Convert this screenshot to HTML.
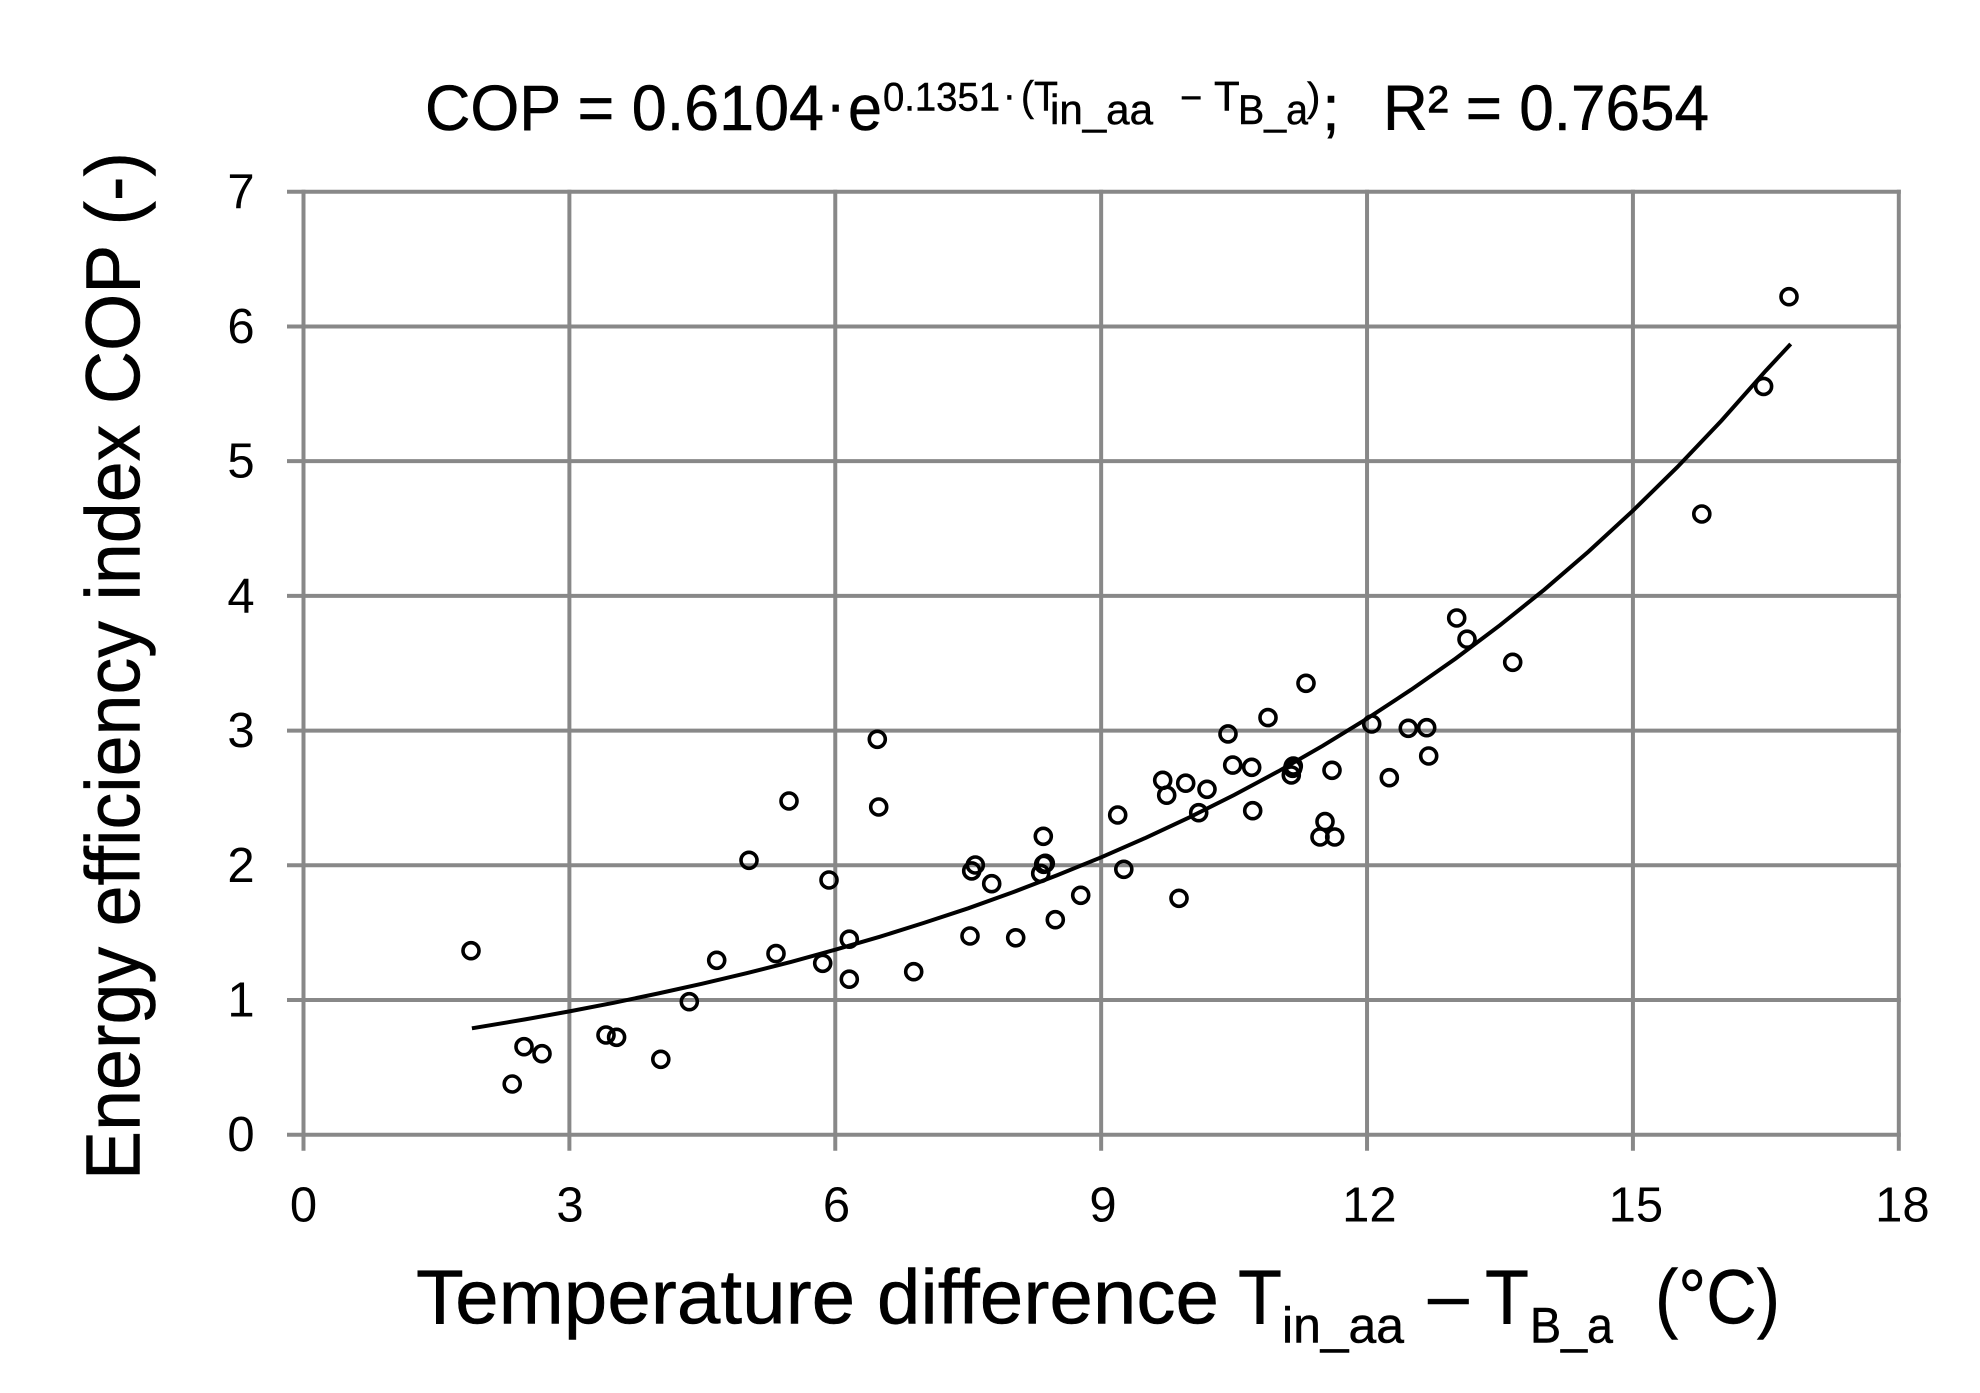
<!DOCTYPE html>
<html lang="en">
<head>
<meta charset="utf-8">
<title>COP vs temperature difference</title>
<style>
html,body{margin:0;padding:0;background:#fff;width:1980px;height:1393px;overflow:hidden}
svg{display:block}
text{font-family:"Liberation Sans",sans-serif;fill:#000}
.heavy{stroke:#000;stroke-width:.5px}
</style>
</head>
<body>
<svg id="chart" xmlns="http://www.w3.org/2000/svg" width="1980" height="1393" viewBox="0 0 1980 1393">
  <rect x="0" y="0" width="1980" height="1393" fill="#fff"/>
  <g id="grid"></g>
  <g id="tick-labels" font-size="49"></g>
  <path id="trend" fill="none" stroke="#000" stroke-width="4"/>
  <g id="points"></g>

  <g class="heavy">
    <text x="425" y="130" font-size="64" textLength="399" lengthAdjust="spacingAndGlyphs">COP = 0.6104</text>
    <text x="825.5" y="125" font-size="61">·</text>
    <text x="848" y="130" font-size="64" textLength="34" lengthAdjust="spacingAndGlyphs">e</text>
    <text x="883" y="110.7" font-size="40" textLength="117" lengthAdjust="spacingAndGlyphs">0.1351</text>
    <text x="1003" y="108" font-size="38">·</text>
    <text x="1021" y="110.7" font-size="42" textLength="37" lengthAdjust="spacingAndGlyphs">(T</text>
    <text x="1050" y="124" font-size="42" textLength="103" lengthAdjust="spacingAndGlyphs">in_aa</text>
    <text x="1180" y="110.7" font-size="38">−</text>
    <text x="1214" y="110.7" font-size="42">T</text>
    <text x="1238" y="124" font-size="42" textLength="70" lengthAdjust="spacingAndGlyphs">B_a</text>
    <text x="1307" y="110.7" font-size="40">)</text>
    <text x="1322" y="130" font-size="64">;</text>
    <text x="1383" y="130" font-size="64" textLength="326" lengthAdjust="spacingAndGlyphs">R² = 0.7654</text>
  </g>

  <g class="heavy">
    <text x="416" y="1323.3" font-size="77" textLength="803" lengthAdjust="spacingAndGlyphs">Temperature difference</text>
    <text x="1238" y="1323.3" font-size="77" textLength="44" lengthAdjust="spacingAndGlyphs">T</text>
    <text x="1282" y="1342.7" font-size="50" textLength="122" lengthAdjust="spacingAndGlyphs">in_aa</text>
    <text x="1428" y="1320" font-size="73">–</text>
    <text x="1485" y="1323.3" font-size="77" textLength="44" lengthAdjust="spacingAndGlyphs">T</text>
    <text x="1530" y="1342.7" font-size="50" textLength="83" lengthAdjust="spacingAndGlyphs">B_a</text>
    <text x="1655" y="1323.3" font-size="77" textLength="125" lengthAdjust="spacingAndGlyphs">(°C)</text>
  </g>

  <text class="heavy" transform="translate(139.7 1180) rotate(-90)" x="0" y="0" font-size="77" textLength="1028" lengthAdjust="spacingAndGlyphs">Energy efficiency index COP (-)</text>
</svg>
<script>
const xTicks = [0, 3, 6, 9, 12, 15, 18];
const yTicks = [0, 1, 2, 3, 4, 5, 6, 7];

const pointX = [1.890, 2.355, 2.488, 2.691, 3.413, 3.533, 4.031, 4.353, 4.662, 5.027, 5.331, 5.478, 5.858, 5.929, 6.158, 6.158, 6.474, 6.490, 6.885, 7.520, 7.539, 7.580, 7.765, 8.036, 8.318, 8.347, 8.352, 8.370, 8.483, 8.769, 9.187, 9.255, 9.695, 9.740, 9.878, 9.954, 10.101, 10.194, 10.431, 10.484, 10.699, 10.710, 10.883, 11.146, 11.161, 11.168, 11.311, 11.469, 11.526, 11.605, 11.635, 12.053, 12.251, 12.466, 12.673, 12.696, 13.012, 13.128, 13.644, 15.777, 16.475, 16.761];
const pointY = [1.366, 0.376, 0.653, 0.601, 0.740, 0.723, 0.560, 0.987, 1.295, 2.037, 1.344, 2.477, 1.272, 1.891, 1.154, 1.451, 2.935, 2.433, 1.210, 1.475, 1.958, 2.002, 1.863, 1.462, 1.940, 2.215, 2.007, 2.015, 1.596, 1.777, 2.373, 1.970, 2.631, 2.520, 1.755, 2.609, 2.390, 2.564, 2.975, 2.744, 2.727, 2.405, 3.096, 2.670, 2.720, 2.737, 3.351, 2.210, 2.324, 2.705, 2.210, 3.049, 2.650, 3.017, 3.021, 2.811, 3.836, 3.678, 3.507, 4.608, 5.555, 6.221];

const trendX = [1.9, 2.5, 3, 3.5, 4, 4.5, 5, 5.5, 6, 6.5, 7, 7.5, 8, 8.5, 9, 9.5, 10, 10.5, 11, 11.5, 12, 12.5, 13, 13.5, 14, 14.5, 15, 15.5, 16, 16.5, 16.78];
const trendY = [0.790, 0.856, 0.915, 0.979, 1.048, 1.121, 1.199, 1.283, 1.373, 1.469, 1.572, 1.681, 1.799, 1.925, 2.059, 2.203, 2.357, 2.522, 2.698, 2.887, 3.088, 3.304, 3.535, 3.782, 4.046, 4.329, 4.632, 4.955, 5.301, 5.672, 5.870];

const X = function (v) { return 303.5 + v * 88.628; };
const Y = function (v) { return 1134.7 - v * 134.71; };
const NS = 'http://www.w3.org/2000/svg';

const grid = document.getElementById('grid');
const labels = document.getElementById('tick-labels');
const pts = document.getElementById('points');

function makeLine(x1, y1, x2, y2) {
  const l = document.createElementNS(NS, 'line');
  l.setAttribute('x1', x1);
  l.setAttribute('y1', y1);
  l.setAttribute('x2', x2);
  l.setAttribute('y2', y2);
  l.setAttribute('stroke', '#888888');
  l.setAttribute('stroke-width', '4');
  return l;
}

const xMax = xTicks[xTicks.length - 1];
const yMax = yTicks[yTicks.length - 1];

yTicks.forEach(function (t) {
  const l = makeLine(287, Y(t), X(xMax) + 2, Y(t));
  
  
  grid.appendChild(l);
  const s = document.createElementNS(NS, 'text');
  s.setAttribute('x', 241);
  s.setAttribute('y', Y(t) + 16.5);
  s.setAttribute('text-anchor', 'middle');
  
  
  s.textContent = t;
  labels.appendChild(s);
});

xTicks.forEach(function (t) {
  const l = makeLine(X(t), Y(yMax) - 2, X(t), 1150.7);
  
  
  grid.appendChild(l);
  const s = document.createElementNS(NS, 'text');
  s.setAttribute('x', X(t) + t * 0.2);
  s.setAttribute('y', 1221.7);
  s.setAttribute('text-anchor', 'middle');
  
  
  s.textContent = t;
  labels.appendChild(s);
});

document.getElementById('trend').setAttribute('d', trendX.map(function (v, i) {
  return (i ? 'L' : 'M') + X(v).toFixed(1) + ' ' + Y(trendY[i]).toFixed(1);
}).join(' '));

pointX.forEach(function (v, i) {
  const c = document.createElementNS(NS, 'circle');
  c.setAttribute('cx', X(v).toFixed(1));
  c.setAttribute('cy', Y(pointY[i]).toFixed(1));
  c.setAttribute('r', '8');
  c.setAttribute('fill', 'none');
  c.setAttribute('stroke', '#000');
  c.setAttribute('stroke-width', '3.6');
  
  
  pts.appendChild(c);
});
</script>
</body>
</html>
